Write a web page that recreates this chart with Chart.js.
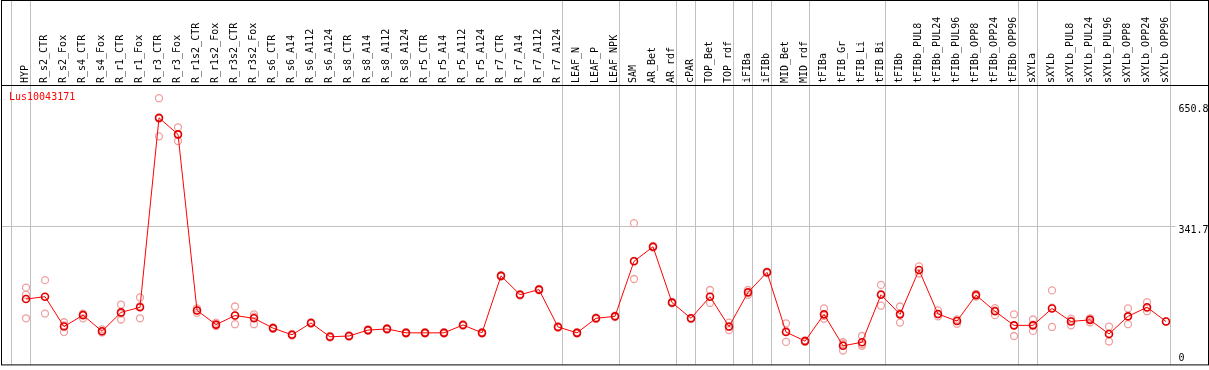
<html lang="en">
<head>
<meta charset="UTF-8">
<title>Lus10043171</title>
<script src="https://cdn.jsdelivr.net/npm/chart.js"></script>
<style>
  body { margin: 0; background: #fff; }
</style>
</head>
<body>
<canvas id="chart" width="1209" height="370"></canvas>
<script>
// samples along the top
const categories = ['HYP', 'R_s2_CTR', 'R_s2_Fox', 'R_s4_CTR', 'R_s4_Fox', 'R_r1_CTR', 'R_r1_Fox', 'R_r3_CTR', 'R_r3_Fox',
  'R_r1s2_CTR', 'R_r1s2_Fox', 'R_r3s2_CTR', 'R_r3s2_Fox', 'R_s6_CTR', 'R_s6_A14', 'R_s6_A112', 'R_s6_A124',
  'R_s8_CTR', 'R_s8_A14', 'R_s8_A112', 'R_s8_A124', 'R_r5_CTR', 'R_r5_A14', 'R_r5_A112', 'R_r5_A124',
  'R_r7_CTR', 'R_r7_A14', 'R_r7_A112', 'R_r7_A124', 'LEAF_N', 'LEAF_P', 'LEAF_NPK', 'SAM', 'AR_Bet', 'AR_rdf',
  'cPAR', 'TOP_Bet', 'TOP_rdf', 'iFIBa', 'iFIBb', 'MID_Bet', 'MID_rdf', 'tFIBa', 'tFIB_Gr', 'tFIB_Li', 'tFIB_Bi',
  'tFIBb', 'tFIBb_PUL8', 'tFIBb_PUL24', 'tFIBb_PUL96', 'tFIBb_OPP8', 'tFIBb_OPP24', 'tFIBb_OPP96',
  'sXYLa', 'sXYLb', 'sXYLb_PUL8', 'sXYLb_PUL24', 'sXYLb_PUL96', 'sXYLb_OPP8', 'sXYLb_OPP24', 'sXYLb_OPP96'];

// mean expression per sample
const means = [155, 161, 85, 114, 73, 121, 134, 616, 574, 126, 90, 113, 106, 81, 64, 94, 59,
  61, 76, 79, 69, 69, 69, 89, 69, 214, 166, 179, 84, 69, 106, 111, 251, 288, 146,
  106, 161, 85, 172, 223, 71, 48, 116, 36, 45, 166, 116, 229, 117, 99, 165, 124, 88,
  88, 131, 98, 102, 66, 111, 134, 98];

// single replicates per sample
const replicates = [[184, 166, 106], [203, 118], [96, 71, 88], [118, 106, 117], [78, 70, 72], [141, 103, 118],
  [159, 106, 137], [666, 569, 614], [592, 557, 573], [131, 120, 126], [95, 86, 89], [136, 91, 113], [116, 91, 110],
  [83, 79], [66, 62], [96, 92], [61, 57], [63, 59], [78, 74], [81, 77], [71, 67], [71, 67], [71, 67], [91, 87], [71, 67],
  [216, 212], [168, 164], [181, 177], [86, 82], [71, 67], [108, 104], [113, 109], [348, 206, 252], [290, 286], [148, 144],
  [107, 104], [178, 145, 161], [95, 76, 84], [178, 166], [225, 221], [93, 46, 74], [50, 46], [131, 105, 112],
  [45, 24, 40], [61, 36, 40], [191, 138, 168], [136, 95, 118], [238, 220], [126, 111, 116], [103, 92, 100],
  [168, 161], [132, 114, 126], [116, 61, 88], [103, 74, 90], [177, 84, 133], [105, 88, 100], [106, 96, 103],
  [85, 47, 66], [131, 91, 110], [147, 124, 132], [98]];

// index of the last sample in each group (gray separators), -1 = before the first
const groupEnds = [-1, 0, 28, 31, 34, 35, 37, 38, 39, 41, 45, 52, 53, 60];
const yTicks = [0, 341.7, 650.8];
const title = 'Lus10043171';

const repPoints = [];
replicates.forEach((vals, i) => {
  vals.forEach(v => repPoints.push({ x: categories[i], y: v }));
});

const mono = 'DejaVu Sans Mono';

// frame, separators, y labels and title
const framePlugin = {
  id: 'frame',
  beforeDatasetsDraw(chart) {
    const ctx = chart.ctx;
    const xs = chart.scales.x;
    const ys = chart.scales.y;
    const area = chart.chartArea;
    ctx.save();
    ctx.strokeStyle = '#c0c0c0';
    ctx.lineWidth = 1;
    groupEnds.forEach(i => {
      const px = xs.getPixelForValue(i) + 4.5;
      ctx.beginPath();
      ctx.moveTo(px, 0);
      ctx.lineTo(px, area.bottom);
      ctx.stroke();
    });
    const gy = Math.round(ys.getPixelForValue(yTicks[1])) + 0.5;
    ctx.beginPath();
    ctx.moveTo(1, gy);
    ctx.lineTo(area.right, gy);
    ctx.stroke();
    ctx.restore();
  },
  afterDraw(chart) {
    const ctx = chart.ctx;
    const ys = chart.scales.y;
    const area = chart.chartArea;
    ctx.save();
    ctx.strokeStyle = '#000';
    ctx.lineWidth = 1;
    ctx.strokeRect(1.5, 0.5, 1207, area.bottom);
    ctx.beginPath();
    ctx.moveTo(1, area.top + 0.5);
    ctx.lineTo(1209, area.top + 0.5);
    ctx.stroke();

    ctx.font = '10px "' + mono + '"';
    ctx.textBaseline = 'top';
    ctx.textAlign = 'left';
    ctx.fillStyle = '#000';
    yTicks.forEach(t => {
      const py = Math.min(ys.getPixelForValue(t), area.bottom - 11);
      ctx.fillText(String(t), area.right + 3, py);
    });
    ctx.fillStyle = '#ff0000';
    ctx.fillText(title, 9, area.top + 7);
    ctx.restore();
  }
};

new Chart(document.getElementById('chart').getContext('2d'), {
  type: 'line',
  data: {
    labels: categories,
    datasets: [{
      label: 'mean',
      data: means,
      borderColor: '#ff0000',
      borderWidth: 1,
      pointRadius: 3.5,
      pointBorderWidth: 1.6,
      pointBorderColor: '#e00000',
      pointBackgroundColor: 'rgba(0,0,0,0)',
      tension: 0,
      order: 1
    }, {
      label: 'replicates',
      data: repPoints,
      showLine: false,
      pointRadius: 3.5,
      pointBorderWidth: 1.3,
      pointBorderColor: '#f0a0a0',
      pointBackgroundColor: 'rgba(0,0,0,0)',
      order: 2
    }]
  },
  options: {
    responsive: false,
    animation: false,
    layout: { padding: { left: 16.5, right: 0, top: 0, bottom: 1 } },
    plugins: {
      legend: { display: false },
      tooltip: { enabled: false }
    },
    scales: {
      x: {
        type: 'category',
        position: 'top',
        offset: true,
        grid: { display: false, drawTicks: false },
        border: { display: false },
        ticks: {
          autoSkip: false,
          minRotation: 90,
          maxRotation: 90,
          padding: 2,
          labelOffset: 11,
          color: '#000',
          font: { family: mono, size: 10 }
        },
        afterFit(scale) { scale.height = 85; }
      },
      y: {
        position: 'right',
        min: -11.3,
        max: 699.6,
        grid: { display: false },
        border: { display: false },
        ticks: { display: false },
        afterFit(scale) { scale.width = 33.5; }
      }
    }
  },
  plugins: [framePlugin]
});
</script>
</body>
</html>
